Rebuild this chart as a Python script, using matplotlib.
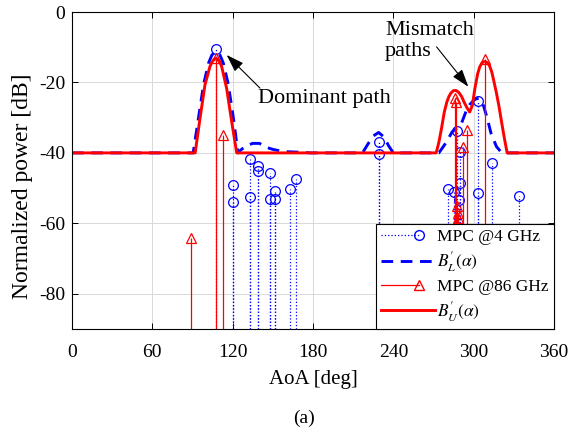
import numpy as np
import matplotlib
matplotlib.use('Agg')
import matplotlib.pyplot as plt
from matplotlib.lines import Line2D
from matplotlib.legend_handler import HandlerLine2D

plt.rcParams['font.family'] = 'Liberation Serif'
plt.rcParams['mathtext.fontset'] = 'stix'
plt.rcParams['axes.unicode_minus'] = False

# MPC @4 GHz (deg, dB)
mpc4_aoa = [107.5, 120.2, 120.2, 133, 133, 139, 139, 148, 148, 151.4, 151.4,
            163, 167.3, 229.3, 229.3, 281, 285, 287.3, 289.8, 290, 289,
            303.5, 303.5, 314, 334]
mpc4_pow = [-10.5, -49.1, -53.8, -41.7, -52.4, -43.7, -45.1, -45.7, -53, -50.7, -53,
            -50.3, -47.3, -36.8, -40.2, -50.3, -51.2, -33.8, -39.8, -48.6, -53.5,
            -25.2, -51.4, -42.8, -52.3]

# MPC @86 GHz (deg, dB)
mpc86_aoa = [89, 107.5, 113, 286, 287, 287.5, 288, 288.5, 291.8, 294.8, 308.8]
mpc86_pow = [-64.1, -13, -34.9, -24.3, -25.6, -55, -57, -58.5, -38.2, -33.5, -13.3]

# B'_L(alpha), blue dashed
bl_aoa = [0, 90.5, 94.5, 98.3, 102, 104.5, 107.5, 110.5, 113, 116.7, 120.5, 124,
          126, 130, 135, 140, 145, 150, 155, 162, 170, 178,
          217, 221, 225, 229, 233, 236.5, 240,
          274, 279, 284, 288, 291, 294, 297, 300, 302, 304, 306, 307.5, 310, 313, 317, 321, 360]
bl_pow = [-40, -40, -30, -20.5, -14.5, -12.2, -11.2, -12.2, -14.5, -20.5, -30, -40,
          -39.2, -38, -37.3, -37.3, -38.4, -39, -39.4, -39.7, -39.8, -40,
          -40, -37.5, -35.2, -34.2, -35.5, -38, -40,
          -40, -37.3, -34, -32.8, -31.5, -28.5, -26.3, -25.1, -24.6, -24.6, -25.3, -26.8, -30, -34.5, -38.2, -40, -40]

# B'_U(alpha), red solid
bu_aoa = [0, 92, 95.6, 99.3, 103, 104.5, 106, 107.5, 109, 110.5, 111.8, 115.5, 119.3, 123,
          272, 274, 276, 278, 280, 281.5, 283, 285, 287, 289, 291, 293, 295, 297,
          299, 301, 303, 304.5, 306, 307.5, 309, 310.5, 312, 313.5, 315, 317, 319, 321, 323, 325, 360]
bu_pow = [-40, -40, -30.2, -20.7, -15.5, -14.3, -13.5, -13.2, -13.5, -14.3, -15.5, -21.7, -31.2, -40,
          -40, -37, -33, -28.5, -25.5, -24, -23, -22.3, -22.3, -22.9, -24, -25.7, -27.2, -28.4,
          -26.5, -21.5, -17.5, -15.6, -14.6, -14.1, -14.1, -14.5, -15.4, -17, -19.5, -23, -27, -31.6, -36, -40, -40]

xticks = [0, 60, 120, 180, 240, 300, 360]
yticks = [-80, -60, -40, -20, 0]


class StemHandle(HandlerLine2D):
    # MATLAB style stem entry: short line ending in the marker
    def create_artists(self, legend, orig_handle, xdescent, ydescent,
                       width, height, fontsize, trans):
        y = (height - ydescent) / 2
        line = Line2D([-xdescent, -xdescent + 0.7 * width], [y, y])
        self.update_prop(line, orig_handle, legend)
        line.set_markevery([1])
        line.set_transform(trans)
        return [line]


fig = plt.figure(figsize=(5.75, 4.29), dpi=100)
ax = fig.add_axes([0.1252, 0.2331, 0.8383, 0.7389])

ax.vlines(mpc4_aoa, -90, mpc4_pow, colors='b', linestyles=':', lw=0.9)
ax.plot(mpc4_aoa, mpc4_pow, 'o', mfc='none', mec='b', ms=7, mew=0.9)
ax.plot(bl_aoa, bl_pow, '--', color='b', lw=2.1, dashes=(4, 2.6))
ax.vlines(mpc86_aoa, -90, mpc86_pow, colors='r', linestyles='-', lw=0.9)
ax.plot(mpc86_aoa, mpc86_pow, '^', mfc='none', mec='r', ms=7, mew=0.9)
ax.plot(bu_aoa, bu_pow, '-', color='r', lw=2.1)

ax.set_xlim(0, 360)
ax.set_ylim(-90, 0)
ax.set_xticks(xticks)
ax.set_yticks(yticks)
ax.tick_params(direction='in', top=True, right=True, labelsize=14, length=4, width=0.7)
ax.tick_params(axis='x', pad=11)
ax.tick_params(axis='y', pad=5)
ax.grid(True, color='0.85', lw=0.7)
ax.set_axisbelow(True)
for s in ax.spines.values():
    s.set_linewidth(0.8)
ax.set_xlabel('AoA [deg]', fontsize=15, labelpad=6)
ax.set_ylabel('Normalized power [dB]', fontsize=17)
ax.yaxis.set_label_coords(-0.08, 0.451)

arrow = dict(arrowstyle='-|>,head_length=0.9,head_width=0.3', color='k', lw=0.8,
             mutation_scale=12, shrinkA=0, shrinkB=0)
ax.text(139, -24.6, 'Dominant path', fontsize=16, ha='left', va='center')
ax.annotate('', xy=(115.5, -12.2), xytext=(140.4, -21.6), arrowprops=arrow)
ax.text(233.8, -8.3, 'Mismatch\npaths', fontsize=16, ha='left', va='center', linespacing=1.15)
ax.annotate('', xy=(296, -21.2), xytext=(272.3, -9.9), arrowprops=arrow)

h4 = Line2D([], [], color='b', ls=':', lw=0.9, marker='o', mfc='none', mec='b', ms=7)
hl = Line2D([], [], color='b', ls='--', lw=2.1, dashes=(4, 2.6))
h86 = Line2D([], [], color='r', ls='-', lw=0.9, marker='^', mfc='none', mec='r', ms=7)
hu = Line2D([], [], color='r', ls='-', lw=2.1)
leg = ax.legend([h4, hl, h86, hu],
                ['MPC @4 GHz', r"$B^{\prime}_{L}(\alpha)$", 'MPC @86 GHz', r"$B^{\prime}_{U}(\alpha)$"],
                loc='lower right', borderaxespad=0, fontsize=12.5,
                handlelength=3.1, handletextpad=0.15, labelspacing=0.25,
                borderpad=0.3, fancybox=False, framealpha=1, numpoints=1,
                handler_map={h4: StemHandle(), h86: StemHandle()})
leg.get_frame().set_edgecolor('k')
leg.get_frame().set_linewidth(0.8)

fig.text(304 / 575, 1 - 418 / 429, '(a)', fontsize=14, ha='center', va='center')

fig.savefig('out.png', dpi=100)
